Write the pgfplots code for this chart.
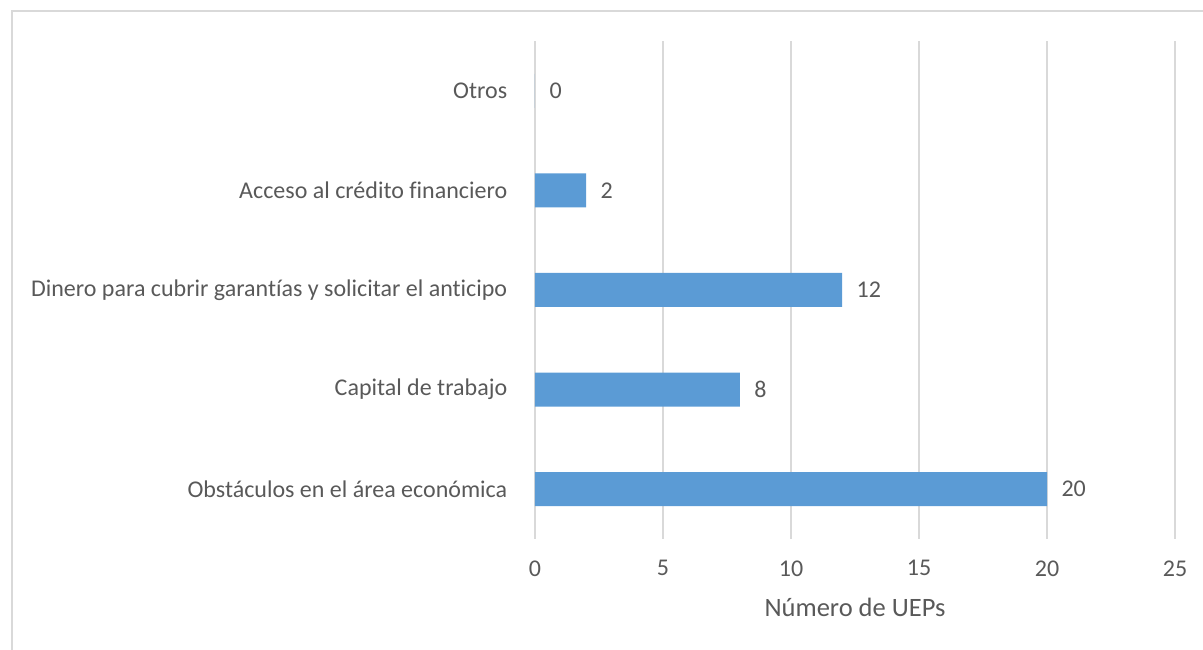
\documentclass[border=0pt]{standalone}
\usepackage{fontspec}
\setmainfont{Carlito}[Ligatures=NoCommon]
\usepackage{pgfplots}
\pgfplotsset{compat=1.18}
\definecolor{barblue}{HTML}{5B9BD5}
\definecolor{gridgray}{HTML}{D9D9D9}
\definecolor{txtgray}{HTML}{595959}
\begin{document}
\begin{tikzpicture}
\useasboundingbox (0pt,0pt) rectangle (1203pt,650pt);
\draw[gridgray, line width=1.5pt] (12pt,0pt) -- (12pt,639pt) -- (1203pt,639pt);
\begin{axis}[
  at={(535pt,111pt)}, anchor=south west,
  scale only axis, width=640pt, height=498pt,
  xbar, bar width=34pt,
  xmin=0, xmax=25, ymin=-0.5, ymax=4.5,
  xtick={0,5,...,25},
  ytick={0,1,2,3,4},
  yticklabels={Obstáculos en el área económica, Capital de trabajo, Dinero para cubrir garantías y solicitar el anticipo, Acceso al crédito financiero, Otros},
  xmajorgrids, major grid style={gridgray, line width=1.2pt},
  axis line style={draw=none},
  tick style={draw=none},
  ticklabel style={font=\fontsize{24}{26}\selectfont, text=txtgray},
  /pgf/number format/assume math mode=true,
  xticklabel style={yshift=-18pt},
  yticklabel style={xshift=-20pt},
  xlabel={Número de UEPs},
  xlabel style={font=\fontsize{26.5}{30}\selectfont, text=txtgray, yshift=-15pt},
  nodes near coords,
  every node near coord/.append style={font=\fontsize{24}{26}\selectfont, text=txtgray, anchor=west, xshift=11pt},
  clip=false,
]
\addplot[fill=barblue, draw=none] coordinates {(20,0) (8,1) (12,2) (2,3) (0,4)};
\end{axis}
\end{tikzpicture}
\end{document}
